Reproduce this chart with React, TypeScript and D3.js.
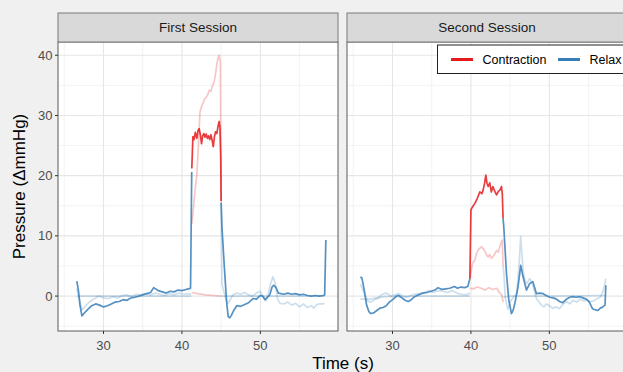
import React from 'react';
import * as d3 from 'd3';

type Pt = [number, number];

// ---- data: [time (s), pressure (ΔmmHg)] ----
// First session
const s1MainPre: Pt[] = [[26.6, 2.5], [26.8, 1.0], [27.0, -1.5], [27.25, -3.3], [27.5, -2.9], [28.0, -2.2], [28.5, -1.6], [29.0, -1.3], [29.5, -1.5], [30.0, -1.8], [30.5, -1.6], [31.0, -1.3], [31.5, -1.0], [32.0, -0.9], [32.5, -0.6], [33.0, -0.7], [33.5, -0.3], [34.0, -0.2], [34.5, 0.0], [35.0, 0.2], [35.5, 0.4], [36.0, 0.6], [36.4, 1.4], [37.0, 0.9], [37.5, 0.7], [38.0, 0.5], [38.5, 0.8], [39.0, 0.7], [39.5, 1.0], [40.0, 0.9], [40.5, 1.1], [40.8, 1.2], [41.1, 1.3], [41.25, 20.6]];
const s1MainCon: Pt[] = [[41.26, 21.2], [41.4, 26.5], [41.55, 26.0], [41.7, 27.2], [41.9, 26.2], [42.05, 27.5], [42.2, 27.8], [42.35, 26.8], [42.5, 25.3], [42.65, 26.6], [42.8, 27.0], [42.95, 26.4], [43.1, 26.9], [43.25, 26.2], [43.4, 26.6], [43.55, 26.0], [43.7, 26.8], [43.85, 25.9], [44.0, 24.8], [44.15, 26.5], [44.3, 27.3], [44.45, 27.0], [44.6, 28.2], [44.75, 29.0], [44.85, 28.0], [44.95, 23.0], [45.0, 15.8]];
const s1MainPost: Pt[] = [[45.0, 15.5], [45.1, 11.5], [45.4, 5.0], [45.7, -1.0], [45.9, -3.4], [46.1, -3.6], [46.3, -3.2], [46.6, -2.4], [47.0, -1.6], [47.5, -1.7], [48.0, -1.4], [48.5, -1.1], [49.1, -0.4], [49.5, -0.5], [50.0, 0.1], [50.3, 0.0], [50.6, -0.6], [50.9, -0.2], [51.2, 0.2], [51.5, 1.5], [51.7, 1.8], [52.0, 1.4], [52.3, 0.5], [52.6, 0.4], [53.0, 0.3], [53.5, 0.5], [54.0, 0.3], [54.5, 0.4], [55.0, 0.2], [55.5, 0.3], [56.0, 0.1], [56.5, 0.0], [57.0, 0.1], [57.5, 0.0], [58.0, 0.1], [58.2, 0.2], [58.35, 9.3]];

const s1BPre: Pt[] = [[26.6, 1.3], [27.25, -2.3], [27.8, -1.5], [28.3, -0.9], [28.9, -0.4], [29.4, 0.0], [30.0, -0.3], [30.6, -0.4], [31.2, -0.1], [31.8, -0.3], [32.4, 0.1], [33.0, 0.2], [33.6, -0.1], [34.2, 0.3], [34.8, 0.2], [35.4, 0.4], [36.0, 0.2], [36.6, 0.5], [37.2, 0.3], [37.8, 0.1], [38.4, 0.4], [39.0, 0.2], [39.6, 0.5], [40.2, 0.3], [40.8, 0.4], [41.2, 0.3]];
const s1BCon: Pt[] = [[41.26, 12.0], [41.5, 15.0], [41.7, 18.0], [41.9, 20.0], [42.1, 25.0], [42.3, 30.5], [42.5, 31.5], [42.7, 32.0], [42.9, 32.8], [43.1, 33.0], [43.3, 33.5], [43.5, 34.2], [43.7, 34.0], [43.9, 35.0], [44.1, 35.5], [44.3, 37.0], [44.45, 38.5], [44.6, 39.5], [44.75, 40.0], [44.9, 39.0], [45.0, 15.5]];
const s1BPost: Pt[] = [[45.0, 15.5], [45.1, 2.0], [45.3, 1.0], [45.6, -0.5], [45.9, -1.2], [46.2, -0.5], [46.5, 0.2], [47.0, 0.5], [47.5, 0.3], [48.0, 0.6], [48.5, 0.2], [49.0, 0.0], [49.5, 0.5], [50.0, 0.8], [50.4, -0.3], [50.7, -0.8], [51.0, 0.3], [51.3, 2.0], [51.6, 3.2], [51.9, 2.2], [52.2, -0.5], [52.5, -1.2], [53.0, -1.3], [53.5, -1.0], [54.0, -1.5], [54.5, -1.2], [55.0, -1.8], [55.5, -1.3], [56.0, -1.9], [56.5, -1.6], [56.8, -2.0], [57.2, -1.4], [57.6, -1.3], [58.0, -1.3], [58.2, -1.2]];

const s1CPre: Pt[] = [[26.6, 0.0], [30.0, 0.0], [35.0, 0.0], [41.2, 0.0]];
const s1CCon: Pt[] = [[41.26, 0.6], [42.0, 0.4], [43.0, 0.2], [44.0, 0.1], [45.0, 0.0]];
const s1CPost: Pt[] = [[45.0, 0.0], [50.0, 0.0], [58.2, 0.0]];

// Second session
const s2MainPre: Pt[] = [[25.9, 3.2], [26.1, 3.0], [26.4, 1.0], [26.7, -1.5], [27.0, -2.6], [27.2, -2.9], [27.6, -2.8], [28.0, -2.4], [28.4, -2.0], [28.8, -1.9], [29.2, -1.6], [29.6, -1.0], [30.1, -0.5], [30.5, 0.0], [30.8, 0.1], [31.2, -0.3], [31.6, -0.7], [32.0, -0.9], [32.4, -0.6], [32.8, -0.1], [33.3, 0.2], [33.9, 0.5], [34.4, 0.6], [34.9, 0.8], [35.4, 1.0], [35.8, 1.4], [36.3, 1.1], [36.8, 1.2], [37.3, 1.3], [37.9, 1.6], [38.3, 1.3], [38.7, 1.5], [39.2, 1.4], [39.6, 1.6], [39.87, 2.9]];
const s2MainCon: Pt[] = [[39.87, 2.9], [40.0, 14.3], [40.2, 14.8], [40.5, 15.4], [40.8, 16.2], [41.14, 17.3], [41.4, 17.0], [41.56, 17.6], [41.75, 18.8], [41.9, 20.1], [42.05, 18.7], [42.2, 18.2], [42.4, 18.8], [42.6, 17.3], [42.8, 18.2], [43.0, 17.5], [43.27, 16.8], [43.5, 17.4], [43.7, 17.6], [43.9, 18.2], [44.0, 17.0], [44.1, 12.9]];
const s2MainPost: Pt[] = [[44.1, 12.9], [44.19, 11.5], [44.53, 3.8], [44.83, -0.7], [45.17, -2.9], [45.4, -2.3], [45.6, -1.2], [46.0, 1.5], [46.35, 5.1], [46.65, 3.2], [47.08, 1.0], [47.5, 2.1], [47.9, 2.4], [48.35, 0.4], [48.8, 0.5], [49.2, 0.4], [49.6, 0.1], [50.04, -0.2], [50.5, -0.3], [50.9, -0.5], [51.3, -0.9], [51.7, -1.1], [52.2, -0.5], [52.6, -0.2], [53.0, -0.1], [53.4, -0.2], [53.9, -0.1], [54.3, -0.3], [54.7, -0.5], [55.1, -1.0], [55.5, -2.1], [55.9, -2.3], [56.2, -2.4], [56.5, -2.0], [56.8, -1.8], [57.1, -1.5], [57.2, 1.8]];

const s2BPre: Pt[] = [[25.9, 2.0], [26.4, 0.5], [26.8, -0.8], [27.2, -1.0], [27.7, -0.6], [28.2, -0.3], [28.7, 0.3], [29.2, 0.5], [29.8, 0.0], [30.3, 0.2], [30.8, 0.4], [31.3, 0.0], [31.8, -0.2], [32.3, 0.1], [32.8, 0.3], [33.4, 0.4], [34.0, 0.6], [34.6, 0.9], [35.2, 0.6], [35.8, 0.9], [36.4, 0.8], [37.0, 0.6], [37.6, 0.9], [38.2, 0.5], [38.8, 0.3], [39.4, 0.2], [39.87, 0.5]];
const s2BCon: Pt[] = [[39.87, 2.9], [40.0, 4.0], [40.2, 5.4], [40.5, 6.0], [40.7, 7.0], [40.9, 7.6], [41.1, 7.9], [41.35, 8.2], [41.6, 7.8], [41.8, 7.4], [42.0, 6.8], [42.2, 6.5], [42.4, 6.9], [42.6, 6.3], [42.8, 6.5], [43.0, 6.9], [43.27, 7.6], [43.5, 7.3], [43.7, 8.3], [43.9, 9.0], [44.0, 9.3], [44.1, 5.0]];
const s2BPost: Pt[] = [[44.1, 5.0], [44.2, 3.8], [44.4, -0.5], [44.7, -2.2], [45.0, -1.0], [45.4, -0.2], [45.8, 0.3], [46.0, 2.7], [46.2, 6.5], [46.35, 9.9], [46.5, 7.0], [46.65, 4.3], [46.9, 2.5], [47.1, 2.1], [47.5, 2.9], [47.9, 1.8], [48.35, -0.4], [48.7, -1.0], [49.0, -1.5], [49.3, -1.8], [49.6, -1.3], [50.0, -1.6], [50.4, -2.0], [50.9, -1.8], [51.3, -2.1], [51.7, -1.4], [52.2, -0.9], [52.6, -1.3], [53.0, -0.7], [53.5, -1.0], [53.9, -0.5], [54.4, -0.8], [54.8, -0.6], [55.2, -0.9], [55.7, -0.8], [56.1, -0.4], [56.5, -0.2], [56.8, 0.7], [57.0, 1.5], [57.2, 2.9]];

const s2CPre: Pt[] = [[25.9, -0.5], [27.0, -0.5], [28.0, -0.3], [29.0, -0.1], [34.0, 0.0], [39.87, 0.0]];
const s2CCon: Pt[] = [[39.87, 1.3], [40.3, 1.2], [40.8, 1.5], [41.3, 1.3], [41.8, 1.0], [42.3, 1.4], [42.8, 1.1], [43.3, 1.3], [43.6, 0.6], [43.9, 0.3], [44.1, -1.0]];
const s2CPost: Pt[] = [[44.1, -0.2], [45.0, 0.0], [50.0, 0.0], [57.2, 0.1]];

const sessions = ['First Session', 'Second Session'];
const xTicks = [30, 40, 50];
const xMinor = [25, 35, 45, 55];
const yTicks = [0, 10, 20, 30, 40];
const yMinor = [-5, 5, 15, 25, 35];
const legendItems = ['Contraction', 'Relax'];

const RED = '#E41A1C';
const BLUE = '#377EB8';

type Seg = { pts: Pt[]; color: string; main: boolean };
const panelSegs: Seg[][] = [
  [
    { pts: s1BPre, color: BLUE, main: false }, { pts: s1BCon, color: RED, main: false }, { pts: s1BPost, color: BLUE, main: false },
    { pts: s1CPre, color: BLUE, main: false }, { pts: s1CCon, color: RED, main: false }, { pts: s1CPost, color: BLUE, main: false },
    { pts: s1MainPre, color: BLUE, main: true }, { pts: s1MainCon, color: RED, main: true }, { pts: s1MainPost, color: BLUE, main: true },
  ],
  [
    { pts: s2BPre, color: BLUE, main: false }, { pts: s2BCon, color: RED, main: false }, { pts: s2BPost, color: BLUE, main: false },
    { pts: s2CPre, color: BLUE, main: false }, { pts: s2CCon, color: RED, main: false }, { pts: s2CPost, color: BLUE, main: false },
    { pts: s2MainPre, color: BLUE, main: true }, { pts: s2MainCon, color: RED, main: true }, { pts: s2MainPost, color: BLUE, main: true },
  ],
];

const W = 623, H = 372;
const panelX = [58, 347];
const panelW = 280;
const stripTop = 13, panelTop = 42, panelBottom = 331;
const font = 'Liberation Sans, Arial, sans-serif';

const App = () => {
  const y = d3.scaleLinear().domain([-5.8, 42.2]).range([panelBottom, panelTop]);

  return (
    <svg width={W} height={H} style={{ position: 'fixed', left: 0, top: 0 }} fontFamily={font}>
      <rect width={W} height={H} fill="#f0f0f0" />
      {sessions.map((name, i) => {
        const x0 = panelX[i];
        const x = d3.scaleLinear().domain([24.2, 59.9]).range([x0, x0 + panelW]);
        const line = d3.line<Pt>().x(d => x(d[0])).y(d => y(d[1]));
        return (
          <g key={name}>
            <defs>
              <clipPath id={`clip${i}`}>
                <rect x={x0} y={panelTop} width={panelW} height={panelBottom - panelTop} />
              </clipPath>
            </defs>
            <rect x={x0} y={panelTop} width={panelW} height={panelBottom - panelTop} fill="#fff" />
            {xMinor.map(t => <line key={'xm' + t} x1={x(t)} x2={x(t)} y1={panelTop} y2={panelBottom} stroke="#ebebeb" strokeWidth={0.6} />)}
            {yMinor.map(t => <line key={'ym' + t} x1={x0} x2={x0 + panelW} y1={y(t)} y2={y(t)} stroke="#ebebeb" strokeWidth={0.6} />)}
            {xTicks.map(t => <line key={'x' + t} x1={x(t)} x2={x(t)} y1={panelTop} y2={panelBottom} stroke="#e6e6e6" strokeWidth={1.1} />)}
            {yTicks.map(t => <line key={'y' + t} x1={x0} x2={x0 + panelW} y1={y(t)} y2={y(t)} stroke="#e6e6e6" strokeWidth={1.1} />)}
            <g clipPath={`url(#clip${i})`}>
              {panelSegs[i].map((s, j) => (
                <path key={j} d={line(s.pts) || ''} fill="none" stroke={s.color}
                  strokeOpacity={s.main ? 0.85 : 0.25} strokeWidth={1.7} strokeLinejoin="round" />
              ))}
            </g>
            <rect x={x0} y={panelTop} width={panelW} height={panelBottom - panelTop} fill="none" stroke="#5a5a5a" strokeWidth={1} />
            <rect x={x0} y={stripTop} width={panelW} height={panelTop - stripTop} fill="#d9d9d9" stroke="#7a7a7a" strokeWidth={1} />
            <text x={x0 + panelW / 2} y={(stripTop + panelTop) / 2 + 4.8} textAnchor="middle" fontSize={13.5} fill="#1a1a1a">{name}</text>
            {xTicks.map(t => (
              <g key={'xt' + t}>
                <line x1={x(t)} x2={x(t)} y1={panelBottom} y2={panelBottom + 3} stroke="#333" strokeWidth={1} />
                <text x={x(t)} y={349.5} textAnchor="middle" fontSize={13} fill="#4d4d4d">{t}</text>
              </g>
            ))}
          </g>
        );
      })}
      {yTicks.map(t => (
        <g key={'yt' + t}>
          <line x1={panelX[0] - 3} x2={panelX[0]} y1={y(t)} y2={y(t)} stroke="#333" strokeWidth={1} />
          <text x={panelX[0] - 5.5} y={y(t) + 4.6} textAnchor="end" fontSize={13} fill="#4d4d4d">{t}</text>
        </g>
      ))}
      <text x={343} y={369} textAnchor="middle" fontSize={17} fill="#000">Time (s)</text>
      <text transform={`translate(25,${(panelTop + panelBottom) / 2}) rotate(-90)`} textAnchor="middle" fontSize={17} fill="#000">Pressure (ΔmmHg)</text>
      <g>
        <rect x={437.5} y={45} width={200} height={28.5} fill="#fff" stroke="#222" strokeWidth={1} />
        {legendItems.map((lab, k) => {
          const kx = k === 0 ? 451 : 558;
          return (
            <g key={lab}>
              <line x1={kx} x2={kx + 22} y1={59.5} y2={59.5} stroke={k === 0 ? RED : BLUE} strokeWidth={3} />
              <text x={kx + 31.5} y={64} fontSize={12.5} fill="#000">{lab}</text>
            </g>
          );
        })}
      </g>
    </svg>
  );
};

export default App;
